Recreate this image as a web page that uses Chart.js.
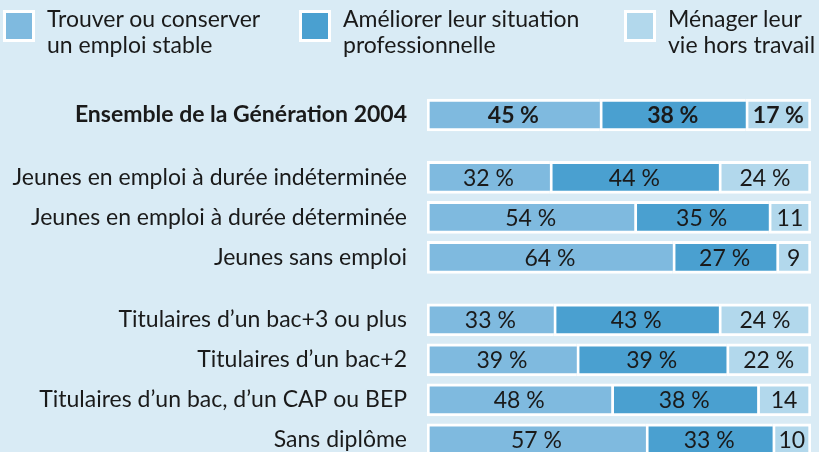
<!DOCTYPE html>
<html lang="fr">
<head>
    <meta charset="UTF-8">
    <title>Priorités des jeunes</title>
    <script src="https://cdn.jsdelivr.net/npm/chart.js@4"></script>
    <style>
        html, body { margin: 0; padding: 0; background: #d9ebf5; }
        #wrap { position: relative; width: 819px; height: 452px; overflow: hidden; }
        #legend div.item { position: absolute; top: 0; }
        #legend .box { position: absolute; top: 10px; left: 0; width: 26px; height: 26px; border: 3px solid #fff; }
        #legend .txt { position: absolute; top: 5px; left: 44px; white-space: pre; font: 23px Lato, sans-serif; line-height: 26px; color: #1a1a1a; }
        canvas { position: absolute; left: 0; top: 0; }
    </style>
</head>
<body>
<div id="wrap">
    <canvas id="chart" width="819" height="452"></canvas>
    <div id="legend"></div>
</div>
<script>
    // catégories (de haut en bas) et groupe de chaque ligne
    const categories = [
        'Ensemble de la Génération 2004',
        'Jeunes en emploi à durée indéterminée',
        'Jeunes en emploi à durée déterminée',
        'Jeunes sans emploi',
        'Titulaires d\u2019un bac+3 ou plus',
        'Titulaires d\u2019un bac+2',
        'Titulaires d\u2019un bac, d\u2019un CAP ou BEP',
        'Sans diplôme'
    ];
    const groups = [0, 1, 1, 1, 2, 2, 2, 2];

    const seriesNames = [
        'Trouver ou conserver\nun emploi stable',
        'Améliorer leur situation\nprofessionnelle',
        'Ménager leur\nvie hors travail'
    ];
    const emploiStable = [45, 32, 54, 64, 33, 39, 48, 57];
    const situationPro = [38, 44, 35, 27, 43, 39, 38, 33];
    const horsTravail = [17, 24, 11, 9, 24, 22, 14, 10];

    const colors = ['#7fbadf', '#4aa0d0', '#b2d8ec'];
    const FONT = 'Lato, sans-serif';

    // position verticale de chaque ligne : un écart en plus entre les groupes
    const pos = categories.map((c, i) => i + groups[i] * 0.56);

    // légende en HTML (texte sur deux lignes)
    const legendX = [3, 299, 624];
    seriesNames.forEach((name, k) => {
        const item = document.createElement('div');
        item.className = 'item';
        item.style.left = legendX[k] + 'px';
        item.innerHTML = '<div class="box" style="background:' + colors[k] + '"></div>' +
            '<div class="txt"></div>';
        item.querySelector('.txt').textContent = name;
        document.getElementById('legend').appendChild(item);
    });

    // étiquettes de valeur au centre des segments
    const valueLabels = {
        id: 'valueLabels',
        afterDatasetsDraw(chart) {
            const ctx = chart.ctx;
            ctx.save();
            ctx.fillStyle = '#1a1a1a';
            ctx.textAlign = 'center';
            ctx.textBaseline = 'middle';
            chart.data.datasets.forEach((ds, k) => {
                chart.getDatasetMeta(k).data.forEach((bar, i) => {
                    const v = ds.data[i].x;
                    ctx.font = (i === 0 ? 'bold ' : '') + '23px ' + FONT;
                    const txt = v >= 15 ? v + ' %' : String(v);
                    ctx.fillText(txt, (bar.x + bar.base) / 2, bar.y + 1);
                });
            });
            ctx.restore();
        }
    };

    const allValues = [emploiStable, situationPro, horsTravail];

    new Chart(document.getElementById('chart'), {
        type: 'bar',
        data: {
            datasets: allValues.map((vals, k) => ({
                label: seriesNames[k],
                data: vals.map((v, i) => ({ x: v, y: pos[i] })),
                backgroundColor: colors[k],
                borderColor: '#ffffff',
                borderWidth: { top: 3, bottom: 3, left: 3, right: k === 2 ? 3 : 0 },
                borderSkipped: false,
                barThickness: 32
            }))
        },
        options: {
            indexAxis: 'y',
            responsive: false,
            animation: false,
            layout: { padding: { top: 95, right: 8, bottom: 0, left: 0 } },
            plugins: { legend: { display: false }, tooltip: { enabled: false } },
            scales: {
                x: { type: 'linear', stacked: true, min: 0, max: 100, display: false },
                y: {
                    type: 'linear',
                    stacked: true,
                    reverse: true,
                    offset: false,
                    bounds: 'data',
                    min: -0.5,
                    max: 8.425,
                    grid: { display: false, drawTicks: false },
                    border: { display: false },
                    afterBuildTicks: scale => { scale.ticks = pos.map(p => ({ value: p })); },
                    afterFit: scale => {
                        scale.width = 427;
                        scale.paddingTop = 0;
                        scale.paddingBottom = 0;
                    },
                    ticks: {
                        autoSkip: false,
                        padding: 20,
                        color: '#1a1a1a',
                        font: c => ({ family: FONT, size: 23, weight: c.index === 0 ? 'bold' : 'normal' }),
                        callback: (value, index) => categories[index]
                    }
                }
            }
        },
        plugins: [valueLabels]
    });
</script>
</body>
</html>
